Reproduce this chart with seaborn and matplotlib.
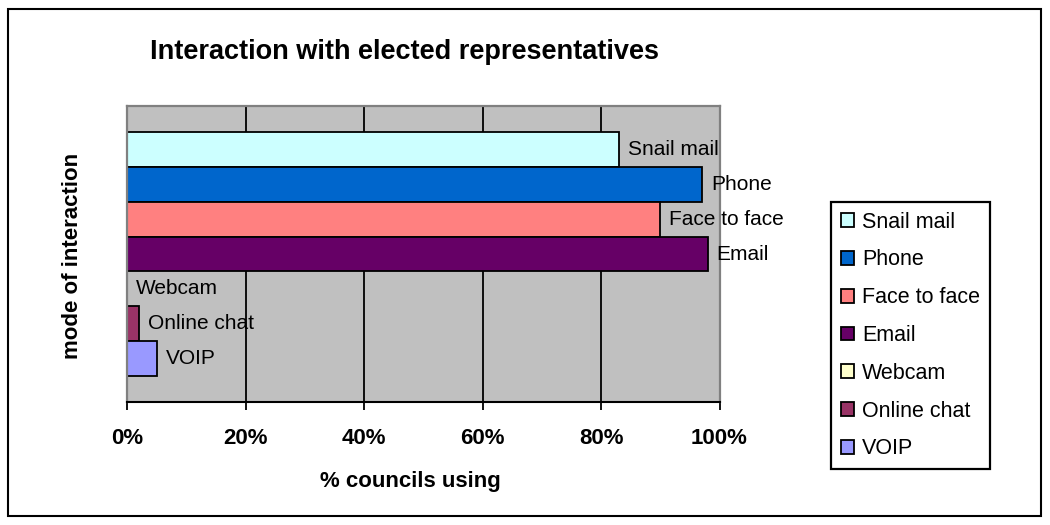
import matplotlib
matplotlib.use("Agg")
import matplotlib.pyplot as plt
from matplotlib.patches import Patch, Rectangle
from matplotlib.ticker import FuncFormatter, MultipleLocator
import pandas as pd
import seaborn as sns

# Share of councils using each mode of interaction (%)
modes = ["Snail mail", "Phone", "Face to face", "Email", "Webcam", "Online chat", "VOIP"]
pct_using = [83, 97, 90, 98, 0, 2, 5]
bar_colors = ["#CCFFFF", "#0066CC", "#FF8080", "#660066", "#FFFFCC", "#993366", "#9999FF"]

df = pd.DataFrame({"mode": modes, "pct": pct_using, "group": ["all"] * len(modes)})

sns.set_style("white")
plt.rcParams["font.family"] = ["Liberation Sans", "DejaVu Sans"]
plt.rcParams["text.color"] = "black"
plt.rcParams["xtick.color"] = "black"
plt.rcParams["xtick.labelcolor"] = "black"

W, H = 1050, 525
fig = plt.figure(figsize=(W / 100, H / 100), dpi=100)
fig.patch.set_facecolor("white")

# plot area in pixel coordinates: x 127..719.5, y 106..402
ax = fig.add_axes([127 / W, 1 - 402 / H, (719.5 - 127) / W, (402 - 106) / H])
ax.set_facecolor("#C0C0C0")

sns.barplot(
    data=df, x="pct", y="group", hue="mode", hue_order=modes,
    palette=dict(zip(modes, bar_colors)), orient="h", saturation=1,
    width=0.824, edgecolor="black", linewidth=1.3, legend=False, ax=ax,
)

ax.set_xlim(0, 100)
ax.set_ylim(0.5, -0.5)
ax.xaxis.set_major_locator(MultipleLocator(20))
ax.xaxis.set_major_formatter(FuncFormatter(lambda v, _: f"{v:.0f}%"))
ax.grid(axis="x", color="black", linewidth=1.3)
ax.grid(axis="y", visible=False)
ax.set_axisbelow(True)

for side in ("left", "top", "right"):
    ax.spines[side].set_color("#808080")
    ax.spines[side].set_linewidth(1.6)
ax.spines["bottom"].set_color("black")
ax.spines["bottom"].set_linewidth(1.5)

ax.set_yticks([])
ax.tick_params(axis="x", bottom=True, direction="out", length=5.5, width=1.3,
               color="black", pad=13, labelsize=16, labelcolor="black")
for lbl in ax.get_xticklabels():
    lbl.set_fontweight("bold")

ax.set_xlabel("")
ax.set_ylabel("")

# bar-end labels
for cont, name in zip(ax.containers, modes):
    ax.bar_label(cont, labels=[name], padding=6.5, fontsize=15, color="black",
                 clip_on=False)

fig.text(405 / W, 1 - 52 / H, "Interaction with elected representatives",
         ha="center", va="center", fontsize=19.5, fontweight="bold", color="black")
fig.text(410 / W, 1 - 482 / H, "% councils using", ha="center", va="center",
         fontsize=16, fontweight="bold", color="black")
fig.text(73 / W, 1 - 256 / H, "mode of interaction", ha="center", va="center",
         rotation=90, fontsize=16, fontweight="bold", color="black")

handles = [Patch(facecolor=c, edgecolor="black", linewidth=1.3) for c in bar_colors]
leg = fig.legend(
    handles, modes, loc="upper left", bbox_to_anchor=(831 / W, 1 - 202 / H),
    bbox_transform=fig.transFigure, borderaxespad=0, fontsize=15.5,
    handlelength=0.6, handleheight=0.6, handletextpad=0.4, labelspacing=0.78,
    borderpad=0.45, fancybox=False, framealpha=1, edgecolor="black",
)
leg.get_frame().set_linewidth(1.6)
for t in leg.get_texts():
    t.set_color("black")

# outer chart frame
fig.patches.append(Rectangle((8 / W, 9 / H), (1041 - 8) / W, (516 - 9) / H,
                             transform=fig.transFigure, fill=False,
                             edgecolor="black", linewidth=1.5))

fig.savefig("out.png", dpi=100)
